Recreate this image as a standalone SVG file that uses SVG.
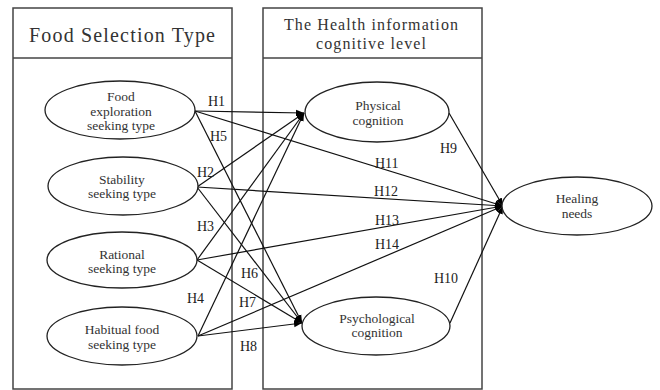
<svg xmlns="http://www.w3.org/2000/svg" width="660" height="390" viewBox="0 0 660 390">
  <defs>
    <marker id="arrow" viewBox="0 0 10 10" refX="10" refY="5" markerWidth="8" markerHeight="8" markerUnits="userSpaceOnUse" orient="auto">
      <path d="M0,1 L10,5 L0,9 Z" fill="#000"/>
    </marker>
    <style>
      .frame { fill: none; stroke: #444; stroke-width: 1.5; }
      .node { fill: #fff; stroke: #222; stroke-width: 1.3; }
      .title { font-family: "Liberation Serif", "DejaVu Serif", serif; fill: #333; text-anchor: middle; }
      .label { font-family: "Liberation Serif", "DejaVu Serif", serif; font-size: 13.5px; fill: #333; text-anchor: middle; }
      .hyp { font-family: "Liberation Serif", "DejaVu Serif", serif; font-size: 14px; fill: #222; }
      .edge { stroke: #111; stroke-width: 1.2; fill: none; marker-end: url(#arrow); }
    </style>
  </defs>
  <rect width="660" height="390" fill="#fff"/>

  <!-- column frames -->
  <g id="panel-food">
    <rect class="frame" x="13" y="8" width="219" height="381"/>
    <line class="frame" x1="13" y1="58" x2="232" y2="58"/>
    <text class="title" x="122" y="42" font-size="20" textLength="186" lengthAdjust="spacing">Food Selection Type</text>
  </g>
  <g id="panel-health">
    <rect class="frame" x="263" y="8" width="219" height="381"/>
    <line class="frame" x1="263" y1="58" x2="482" y2="58"/>
    <text class="title" x="371" y="30" font-size="16" textLength="174" lengthAdjust="spacing">The Health information</text>
    <text class="title" x="371" y="49" font-size="16" textLength="110" lengthAdjust="spacing">cognitive level</text>
  </g>

  <!-- connectors -->
  <g id="connectors">
    <line class="edge" x1="195" y1="111" x2="304" y2="113"/>
    <line class="edge" x1="195" y1="111" x2="302" y2="323"/>
    <line class="edge" x1="195" y1="111" x2="503" y2="206"/>
    <line class="edge" x1="197" y1="187" x2="304" y2="113"/>
    <line class="edge" x1="197" y1="187" x2="302" y2="323"/>
    <line class="edge" x1="197" y1="187" x2="503" y2="206"/>
    <line class="edge" x1="197" y1="260" x2="304" y2="113"/>
    <line class="edge" x1="197" y1="260" x2="302" y2="323"/>
    <line class="edge" x1="197" y1="260" x2="503" y2="206"/>
    <line class="edge" x1="198" y1="336" x2="304" y2="113"/>
    <line class="edge" x1="198" y1="336" x2="302" y2="323"/>
    <line class="edge" x1="198" y1="336" x2="503" y2="206"/>
    <line class="edge" x1="449" y1="113" x2="503" y2="206"/>
    <line class="edge" x1="450" y1="323" x2="503" y2="206"/>
    <text class="hyp" x="208" y="106">H1</text>
    <text class="hyp" x="210" y="141">H5</text>
    <text class="hyp" x="197" y="177">H2</text>
    <text class="hyp" x="197" y="231">H3</text>
    <text class="hyp" x="187" y="303">H4</text>
    <text class="hyp" x="241" y="278">H6</text>
    <text class="hyp" x="239" y="307">H7</text>
    <text class="hyp" x="240" y="351">H8</text>
    <text class="hyp" x="440" y="153">H9</text>
    <text class="hyp" x="434" y="283">H10</text>
    <text class="hyp" x="375" y="168">H11</text>
    <text class="hyp" x="374" y="196">H12</text>
    <text class="hyp" x="375" y="225">H13</text>
    <text class="hyp" x="375" y="249">H14</text>
  </g>

  <!-- nodes -->
  <g id="food-exploration">
    <ellipse class="node" cx="120" cy="110" rx="75" ry="29"/>
    <text class="label" x="121" y="101">Food</text>
    <text class="label" x="121" y="116">exploration</text>
    <text class="label" x="121" y="130">seeking type</text>
  </g>
  <g id="stability-seeking">
    <ellipse class="node" cx="123" cy="186" rx="75" ry="29"/>
    <text class="label" x="122" y="184">Stability</text>
    <text class="label" x="122" y="198">seeking type</text>
  </g>
  <g id="rational-seeking">
    <ellipse class="node" cx="122" cy="260" rx="75" ry="28"/>
    <text class="label" x="122" y="259">Rational</text>
    <text class="label" x="122" y="273">seeking type</text>
  </g>
  <g id="habitual-food">
    <ellipse class="node" cx="122" cy="336" rx="75" ry="29"/>
    <text class="label" x="122" y="334">Habitual food</text>
    <text class="label" x="122" y="349">seeking type</text>
  </g>
  <g id="physical-cognition">
    <ellipse class="node" cx="377" cy="112" rx="72" ry="30"/>
    <text class="label" x="378" y="110">Physical</text>
    <text class="label" x="378" y="125">cognition</text>
  </g>
  <g id="psychological-cognition">
    <ellipse class="node" cx="376" cy="326" rx="74" ry="29"/>
    <text class="label" x="377" y="323">Psychological</text>
    <text class="label" x="377" y="337">cognition</text>
  </g>
  <g id="healing-needs">
    <ellipse class="node" cx="577" cy="206" rx="75" ry="29"/>
    <text class="label" x="577" y="203">Healing</text>
    <text class="label" x="577" y="218">needs</text>
  </g>
</svg>
